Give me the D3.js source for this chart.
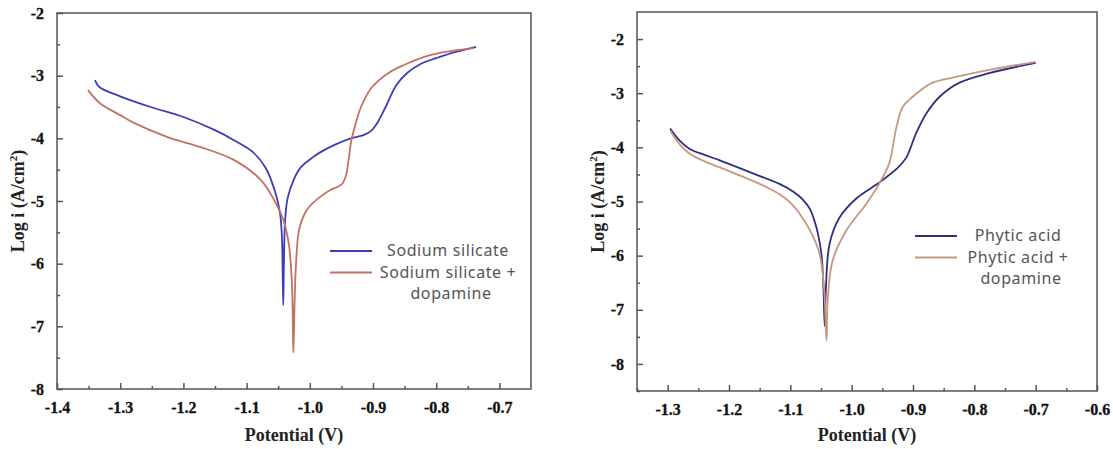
<!DOCTYPE html>
<html>
<head>
<meta charset="utf-8">
<script src="https://cdn.jsdelivr.net/npm/d3@7/dist/d3.min.js"></script>
<style>
  body { margin: 0; background: #fff; }
  svg { display: block; }
  .axis-title { font-family: "Liberation Serif", "Times New Roman", serif; font-weight: bold; font-size: 18px; fill: #222; }
  .legend-text { font-family: "Noto Sans", "Open Sans", sans-serif; font-size: 16px; letter-spacing: 0.6px; fill: #555; }
</style>
</head>
<body>
<svg width="1113" height="449"></svg>
<script>
// Left panel: sodium silicate
const silicateV = [-1.340, -1.333, -1.300, -1.252, -1.200, -1.150, -1.120, -1.090, -1.070, -1.055, -1.047, -1.044, -1.043, -1.042,
  -1.041, -1.039, -1.035, -1.025, -1.014, -0.995, -0.983, -0.960, -0.935, -0.915, -0.903, -0.893, -0.880, -0.863, -0.845, -0.824, -0.800, -0.776, -0.737]
const silicateI = [-3.07, -3.18, -3.33, -3.50, -3.66, -3.87, -4.03, -4.22, -4.47, -4.85, -5.20, -5.60, -6.10, -6.66,
  -6.00, -5.30, -4.95, -4.65, -4.46, -4.30, -4.22, -4.10, -4.00, -3.95, -3.88, -3.75, -3.50, -3.15, -2.95, -2.81, -2.72, -2.64, -2.54]

const silicateDopaV = [-1.351, -1.332, -1.300, -1.279, -1.225, -1.173, -1.121, -1.078, -1.054, -1.042, -1.033, -1.028, -1.026,
  -1.024, -1.022, -1.017, -1.008, -0.998, -0.983, -0.967, -0.950, -0.943, -0.938, -0.935, -0.927, -0.919, -0.903, -0.876, -0.851, -0.808, -0.765, -0.740]
const silicateDopaI = [-3.23, -3.44, -3.63, -3.75, -3.98, -4.14, -4.34, -4.66, -5.03, -5.30, -5.70, -6.40, -7.42,
  -6.60, -6.05, -5.46, -5.20, -5.06, -4.93, -4.82, -4.74, -4.60, -4.30, -4.07, -3.75, -3.50, -3.20, -2.96, -2.83, -2.67, -2.59, -2.56]

// Right panel: phytic acid
const phyticV = [-1.296, -1.280, -1.264, -1.240, -1.215, -1.161, -1.117, -1.095, -1.080, -1.068, -1.060, -1.054, -1.049, -1.046, -1.044,
  -1.042, -1.036, -1.020, -0.992, -0.955, -0.925, -0.911, -0.895, -0.878, -0.857, -0.825, -0.776, -0.700]
const phyticI = [-3.65, -3.88, -4.03, -4.14, -4.24, -4.48, -4.68, -4.82, -4.96, -5.14, -5.38, -5.65, -6.00, -6.60, -7.30,
  -6.60, -5.78, -5.30, -4.94, -4.65, -4.38, -4.19, -3.74, -3.37, -3.07, -2.81, -2.63, -2.44]

const phyticDopaV = [-1.296, -1.280, -1.264, -1.240, -1.215, -1.161, -1.140, -1.117, -1.100, -1.085, -1.064, -1.052, -1.045, -1.041,
  -1.039, -1.031, -1.009, -0.976, -0.955, -0.939, -0.927, -0.917, -0.901, -0.869, -0.830, -0.776, -0.700]
const phyticDopaI = [-3.69, -3.95, -4.12, -4.26, -4.37, -4.62, -4.73, -4.87, -5.02, -5.22, -5.62, -5.98, -6.60, -7.57,
  -6.80, -6.09, -5.54, -5.04, -4.67, -4.30, -3.63, -3.26, -3.07, -2.81, -2.70, -2.57, -2.42]

const leftXTicks = [-1.4, -1.3, -1.2, -1.1, -1.0, -0.9, -0.8, -0.7]
const leftYTicks = [-8, -7, -6, -5, -4, -3, -2]
const rightXTicks = [-1.3, -1.2, -1.1, -1.0, -0.9, -0.8, -0.7, -0.6]
const rightYTicks = [-8, -7, -6, -5, -4, -3, -2]

const zip = (xs, ys) => xs.map((x, i) => [x, ys[i]])
const hyphen = f => d => f(d).replace("\u2212", "-")

const panels = [
  {
    box: { left: 57, right: 531, top: 13, bottom: 389 },
    xDomain: [-1.4, -0.65], yDomain: [-8, -2],
    xTicks: leftXTicks, yTicks: leftYTicks,
    series: [
      { name: "Sodium silicate", data: zip(silicateV, silicateI), color: "#3d3db6" },
      { name: "Sodium silicate +", data: zip(silicateDopaV, silicateDopaI), color: "#c4715f" }
    ],
    legend: { x1: 330, x2: 372, y: 251, textX: 448 }
  },
  {
    box: { left: 637, right: 1097, top: 12, bottom: 391 },
    xDomain: [-1.35, -0.6], yDomain: [-8.5, -1.5],
    xTicks: rightXTicks, yTicks: rightYTicks,
    series: [
      { name: "Phytic acid", data: zip(phyticV, phyticI), color: "#2f2f82" },
      { name: "Phytic acid +", data: zip(phyticDopaV, phyticDopaI), color: "#c9967f" }
    ],
    legend: { x1: 915, x2: 957, y: 236, textX: 1018 }
  }
]

const svg = d3.select("svg")

panels.forEach(p => {
  const b = p.box
  const x = d3.scaleLinear().domain(p.xDomain).range([b.left, b.right])
  const y = d3.scaleLinear().domain(p.yDomain).range([b.bottom, b.top])
  const g = svg.append("g")

  // frame
  g.append("rect")
    .attr("x", b.left).attr("y", b.top)
    .attr("width", b.right - b.left).attr("height", b.bottom - b.top)
    .attr("fill", "none").attr("stroke", "#555").attr("stroke-width", 1.5)

  // bottom axis, inward ticks with minor halves
  const xAxis = g.append("g").attr("transform", `translate(0,${b.bottom})`)
    .call(d3.axisBottom(x).tickValues(p.xTicks).tickSize(-6).tickPadding(10).tickFormat(hyphen(d3.format(".1f"))))
  const xMinor = p.xTicks.map(t => t + 0.05).filter(t => t < p.xDomain[1] - 1e-6)
  if (p.xDomain[0] < p.xTicks[0] - 0.04) xMinor.unshift(p.xTicks[0] - 0.05)
  g.append("g").attr("transform", `translate(0,${b.bottom})`)
    .call(d3.axisBottom(x).tickValues(xMinor).tickSize(-3).tickFormat(""))

  g.append("g").attr("transform", `translate(${b.left},0)`)
    .call(d3.axisLeft(y).tickValues(p.yTicks).tickSize(-6).tickPadding(13).tickFormat(hyphen(d3.format("d"))))
  const yMinor = p.yTicks.map(t => t + 0.5).filter(t => t < p.yDomain[1] - 1e-6)
  if (p.yDomain[0] < p.yTicks[0] - 0.4) yMinor.unshift(p.yTicks[0] - 0.5)
  g.append("g").attr("transform", `translate(${b.left},0)`)
    .call(d3.axisLeft(y).tickValues(yMinor).tickSize(-3).tickFormat(""))

  g.selectAll(".domain").remove()
  g.selectAll(".tick line").attr("stroke", "#555").attr("stroke-width", 1.5)
  g.selectAll(".tick text")
    .style("font-family", '"Liberation Serif", "Times New Roman", serif')
    .style("font-weight", "700")
    .style("font-size", "16px")
    .style("fill", "#111")
    .attr("stroke", "#111").attr("stroke-width", 0.3)
  xAxis.selectAll("text").attr("dy", "0.85em")

  // curves
  const line = d3.line()
    .x(d => x(d[0])).y(d => y(d[1]))
    .curve(d3.curveCatmullRom.alpha(0.5))
  p.series.forEach(s => {
    g.append("path")
      .datum(s.data)
      .attr("fill", "none")
      .attr("stroke", s.color)
      .attr("stroke-width", 1.8)
      .attr("stroke-linejoin", "round")
      .attr("d", line)
  })

  // titles
  g.append("text").attr("class", "axis-title")
    .attr("x", (b.left + b.right) / 2).attr("y", 441)
    .attr("text-anchor", "middle").text("Potential (V)")
  const yt = g.append("text").attr("class", "axis-title")
    .attr("transform", `translate(${b.left - 33},${(b.top + b.bottom) / 2}) rotate(-90)`)
    .attr("text-anchor", "middle")
  yt.append("tspan").text("Log i (A/cm")
  yt.append("tspan").attr("font-size", "11px").attr("dy", "-7").text("2")
  yt.append("tspan").attr("dy", "7").text(")")

  // legend
  const L = p.legend
  p.series.forEach((s, i) => {
    g.append("line")
      .attr("x1", L.x1).attr("x2", L.x2)
      .attr("y1", L.y + i * 21.5).attr("y2", L.y + i * 21.5)
      .attr("stroke", s.color).attr("stroke-width", 2)
  })
  const labels = [p.series[0].name, p.series[1].name, "dopamine"]
  labels.forEach((t, i) => {
    g.append("text").attr("class", "legend-text")
      .attr("x", L.textX + (i === 2 ? 3 : 0)).attr("y", L.y + 5 + i * 21.5)
      .attr("text-anchor", "middle").text(t)
  })
})
</script>
</body>
</html>
